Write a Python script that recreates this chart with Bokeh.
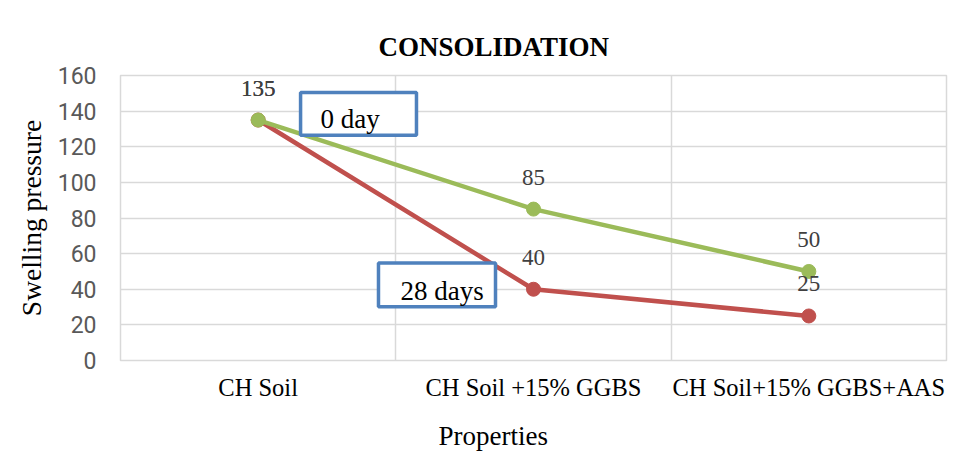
from bokeh.plotting import figure
from bokeh.models import ColumnDataSource, FixedTicker, LabelSet, Label, BoxAnnotation, Range1d, Title
from bokeh.embed import file_html
from bokeh.resources import INLINE

categories = ["CH Soil", "CH Soil +15% GGBS", "CH Soil+15% GGBS+AAS"]
day0 = [135, 85, 50]
day28 = [135, 40, 25]
y_ticks = [0, 20, 40, 60, 80, 100, 120, 140, 160]

xs = [i + 0.5 for i in range(len(categories))]

SERIF = "Liberation Serif"
SANS = "Roboto"

p = figure(width=955, height=453, output_backend="svg", toolbar_location=None,
           x_range=Range1d(0, len(categories)), y_range=Range1d(0, 160),
           min_border_left=120, min_border_right=9, min_border_top=75, min_border_bottom=92)

p.outline_line_color = "#d9d9d9"
p.outline_line_width = 1.5

# axes
p.xaxis.ticker = FixedTicker(ticks=xs)
p.xaxis.major_label_overrides = {x: c for x, c in zip(xs, categories)}
p.xaxis.major_label_text_font = SERIF
p.xaxis.major_label_text_font_size = "24.5px"
p.xaxis.major_label_text_color = "#000000"
p.xaxis.major_label_standoff = 7
p.xaxis.axis_line_color = None
p.xaxis.major_tick_line_color = None
p.xaxis.minor_tick_line_color = None
p.xaxis.axis_label = " "
p.xaxis.axis_label_text_font_size = "8px"
p.xaxis.axis_label_standoff = 0

p.yaxis.ticker = FixedTicker(ticks=y_ticks)
p.yaxis.major_label_text_font = SANS
p.yaxis.major_label_text_font_size = "23px"
p.yaxis.major_label_text_color = "#595959"
p.yaxis.major_label_standoff = 18
p.yaxis.axis_line_color = None
p.yaxis.major_tick_line_color = None
p.yaxis.minor_tick_line_color = None
p.yaxis.axis_label = "Swelling pressure"
p.yaxis.axis_label_text_font = SERIF
p.yaxis.axis_label_text_font_style = "normal"
p.yaxis.axis_label_text_font_size = "27.5px"
p.yaxis.axis_label_text_color = "#000000"
p.yaxis.axis_label_standoff = 8

p.xgrid.ticker = FixedTicker(ticks=[0, 1, 2, 3])
p.xgrid.grid_line_color = "#d9d9d9"
p.xgrid.grid_line_width = 1.5
p.ygrid.grid_line_color = "#d9d9d9"
p.ygrid.grid_line_width = 1.5

src28 = ColumnDataSource(dict(x=xs, y=day28, t=[str(v) for v in day28]))
src0 = ColumnDataSource(dict(x=xs, y=day0, t=[str(v) for v in day0]))

p.line("x", "y", source=src28, line_color="#c0504d", line_width=4.5)
p.scatter("x", "y", source=src28, size=14, fill_color="#c0504d", line_color="#c0504d")
p.line("x", "y", source=src0, line_color="#9bbb59", line_width=4.5)
p.scatter("x", "y", source=src0, size=14, fill_color="#9bbb59", line_color="#9bbb59")

for s in (src28, src0):
    p.add_layout(LabelSet(x="x", y="y", text="t", source=s, y_offset=32,
                          text_align="center", text_baseline="middle",
                          text_font=SANS, text_font_size="23px", text_color="#404040"))

# callout boxes
p.add_layout(BoxAnnotation(left=0.654, right=1.075, top=150.5, bottom=126.4,
                           fill_color="white", fill_alpha=1.0,
                           line_color="#4f81bd", line_alpha=1.0, line_width=3.5))
p.add_layout(Label(x=0.726, y=135.4, text="0 day", text_font=SERIF, text_font_size="27px",
                   text_baseline="middle", text_align="left", text_color="#000000"))
p.add_layout(BoxAnnotation(left=0.937, right=1.362, top=54.8, bottom=30.2,
                           fill_color="white", fill_alpha=1.0,
                           line_color="#4f81bd", line_alpha=1.0, line_width=3.5))
p.add_layout(Label(x=1.017, y=39.2, text="28 days", text_font=SERIF, text_font_size="27px",
                   text_baseline="middle", text_align="left", text_color="#000000"))

# chart title and x-axis title
p.add_layout(Title(text="CONSOLIDATION", align="left", offset=258, text_font=SERIF,
                   text_font_size="27px", text_font_style="bold", text_color="#000000",
                   standoff=28), "above")
p.add_layout(Title(text="Properties", align="left", offset=318, text_font=SERIF,
                   text_font_size="27px", text_font_style="normal", text_color="#000000",
                   standoff=6), "below")

open("out.html", "w").write(file_html(p, INLINE))
